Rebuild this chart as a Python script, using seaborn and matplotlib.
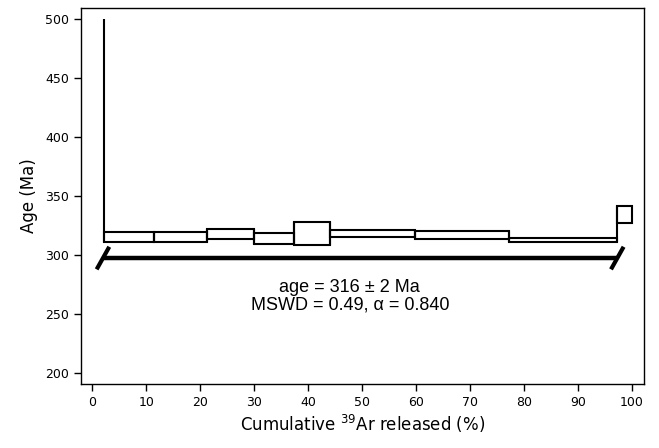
import numpy as np
import pandas as pd
import matplotlib
matplotlib.use("Agg")
import matplotlib.pyplot as plt
import seaborn as sns

# ---- data ----
cum_pct = [0.0, 2.17, 11.42, 21.18, 29.99, 37.39, 44.0, 59.74, 77.19, 97.26, 100.0]
step_age = [560.0, 315.5, 315.4, 317.9, 314.0, 318.3, 318.3, 317.0, 313.0, 334.5]
step_err = [40.0, 4.0, 4.6, 4.4, 4.7, 9.6, 3.1, 3.5, 2.0, 7.4]
plateau_steps = [1, 8]          # first and last step index of the plateau
plateau_label = "age = 316 ± 2 Ma"
stats_label = "MSWD = 0.49, α = 0.840"
x_ticks = [0, 10, 20, 30, 40, 50, 60, 70, 80, 90, 100]
y_ticks = [200, 250, 300, 350, 400, 450, 500]

# ---- style ----
sns.set_style("ticks")
plt.rcParams["font.family"] = ["DejaVu Sans"]
plt.rcParams["text.color"] = "black"
plt.rcParams["axes.labelcolor"] = "black"
plt.rcParams["xtick.color"] = "black"
plt.rcParams["ytick.color"] = "black"

fig = plt.figure(figsize=(6.59, 4.48), dpi=100)
ax = fig.add_axes([0.1229, 0.1429, 0.9772 - 0.1229, 0.9821 - 0.1429])

df = pd.DataFrame({
    "start": cum_pct[:-1],
    "end": cum_pct[1:],
    "age": step_age,
    "err": step_err,
})
df["lo"] = df["age"] - df["err"]
df["hi"] = df["age"] + df["err"]
df["width"] = df["end"] - df["start"]

y_top_display = 500.0

# step boxes
ax.bar(df["start"], 2 * df["err"], bottom=df["lo"], width=df["width"], align="edge",
       fill=False, edgecolor="black", linewidth=1.5, zorder=3)

# vertical connectors between successive steps (clipped at the top display age)
for i in range(1, len(df)):
    lo = min(df["lo"][i - 1], df["lo"][i])
    hi = min(max(df["hi"][i - 1], df["hi"][i]), y_top_display)
    ax.vlines(df["start"][i], lo, hi, color="black", linewidth=1.5, zorder=3)

# plateau bar
p0 = df["start"][plateau_steps[0]]
p1 = df["end"][plateau_steps[1]]
bar_y = 297.6
plat = pd.DataFrame({"x": [p0, p1], "y": [bar_y, bar_y]})
sns.lineplot(data=plat, x="x", y="y", color="black", linewidth=3.2, ax=ax,
             solid_capstyle="butt", zorder=4)
for xc in (p0 - 0.2, p1):
    ax.plot([xc - 1.17, xc + 1.17], [bar_y - 9.55, bar_y + 9.55], color="black",
            linewidth=3.0, solid_capstyle="butt", zorder=4)

ax.text(47.7, 269.2, plateau_label, ha="center", va="baseline", fontsize=13,
        color="black", family=["Liberation Sans", "DejaVu Sans"])
ax.text(47.7, 254.3, stats_label, ha="center", va="baseline", fontsize=13,
        color="black", family=["Liberation Sans", "DejaVu Sans"])

ax.set_xlim(-2.1, 102.2)
ax.set_ylim(191, 509.3)
ax.set_xticks(x_ticks)
ax.set_yticks(y_ticks)
ax.tick_params(axis="both", labelsize=9, length=5, width=1, direction="out",
               color="black", labelcolor="black")
for s in ax.spines.values():
    s.set_visible(True)
    s.set_linewidth(1.0)
    s.set_color("black")

ax.set_xlabel(r"Cumulative $^{39}$Ar released (%)", fontsize=12, color="black", labelpad=3)
ax.set_ylabel("Age (Ma)", fontsize=12, color="black", labelpad=5)

fig.savefig("out.png", dpi=100)
